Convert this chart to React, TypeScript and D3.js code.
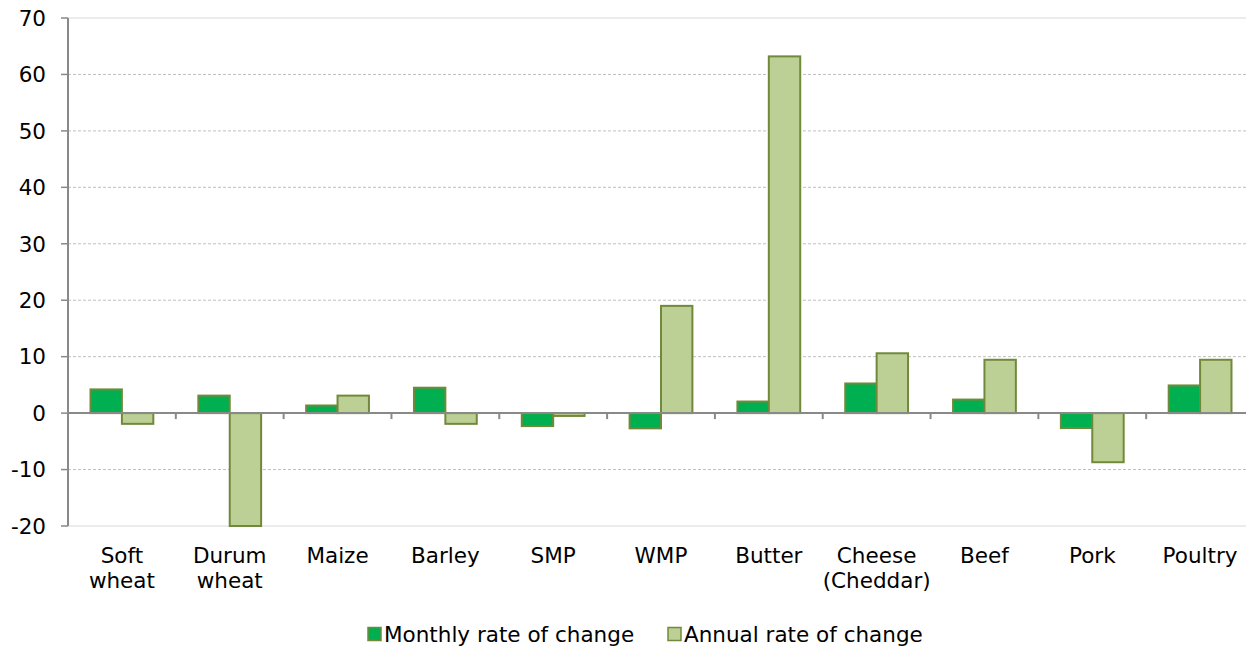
import React from "react";
import * as d3 from "d3";

const categories = ["Soft\nwheat", "Durum\nwheat", "Maize", "Barley", "SMP", "WMP", "Butter", "Cheese\n(Cheddar)", "Beef", "Pork", "Poultry"];
const monthly = [4.2, 3.1, 1.35, 4.5, -2.3, -2.7, 2.05, 5.25, 2.4, -2.65, 4.9];
const annual = [-1.9, -20, 3.1, -1.9, -0.5, 19.0, 63.2, 10.6, 9.45, -8.7, 9.45];
const yTicks = [-20, -10, 0, 10, 20, 30, 40, 50, 60, 70];
const seriesNames = ["Monthly rate of change", "Annual rate of change"];

const W = 1246, H = 651;
const left = 68, right = 1254, top = 18, bottom = 526;
const colors = ["#00b050", "#bcd096"];
const stroke = "#71893a";
const font = "'DejaVu Sans', Verdana, sans-serif";
const fs = 21.5;

export default function App() {
  const x = d3.scaleBand().domain(categories).range([left, right]);
  const y = d3.scaleLinear().domain([-20, 70]).range([bottom, top]);
  const barW = 31.4;
  const series = [monthly, annual];
  return (
    <svg width={W} height={H} style={{ position: "absolute", left: 0, top: 0, fontFamily: font }}>
      {yTicks.map((t) => (
        <g key={t}>
          {t !== 0 && (
            <line x1={left} x2={right} y1={y(t)} y2={y(t)}
              stroke={t === 70 || t === -20 ? "#d9d9d9" : "#bfbfbf"}
              strokeWidth={1}
              strokeDasharray={t === 70 || t === -20 ? undefined : "3,2"} />
          )}
          <line x1={left - 7} x2={left} y1={y(t)} y2={y(t)} stroke="#898989" strokeWidth={1.5} />
          <text x={46} y={y(t)} dy="0.36em" textAnchor="end" fontSize={fs} fill="#000">{t}</text>
        </g>
      ))}
      {series.map((vals, si) =>
        vals.map((v, i) => {
          const cx = x(categories[i])! + x.bandwidth() / 2;
          const x0 = si === 0 ? cx - barW : cx;
          const y0 = Math.min(y(v), y(0));
          const h = Math.abs(y(v) - y(0));
          return <rect key={`${si}-${i}`} x={x0} y={y0} width={barW} height={h}
            fill={colors[si]} stroke={stroke} strokeWidth={2} />;
        })
      )}
      <line x1={left} x2={right} y1={y(0)} y2={y(0)} stroke="#898989" strokeWidth={2} />
      <line x1={left} x2={left} y1={top} y2={bottom} stroke="#898989" strokeWidth={2} />
      {categories.map((c, i) => (
        <g key={c}>
          {i > 0 && <line x1={x(c)} x2={x(c)} y1={y(0)} y2={y(0) + 6} stroke="#898989" strokeWidth={2} />}
          <text x={x(c)! + x.bandwidth() / 2} y={563} textAnchor="middle" fontSize={fs} fill="#000">
            {c.split("\n").map((line, k) => (
              <tspan key={k} x={x(c)! + x.bandwidth() / 2} dy={k === 0 ? 0 : 25}>{line}</tspan>
            ))}
          </text>
        </g>
      ))}
      {seriesNames.map((n, i) => {
        const lx = i === 0 ? 368 : 668;
        return (
          <g key={n}>
            <rect x={lx} y={627.5} width={13} height={13} fill={colors[i]} stroke={stroke} strokeWidth={1.5} />
            <text x={lx + 16} y={642} fontSize={fs} fill="#000">{n}</text>
          </g>
        );
      })}
    </svg>
  );
}
